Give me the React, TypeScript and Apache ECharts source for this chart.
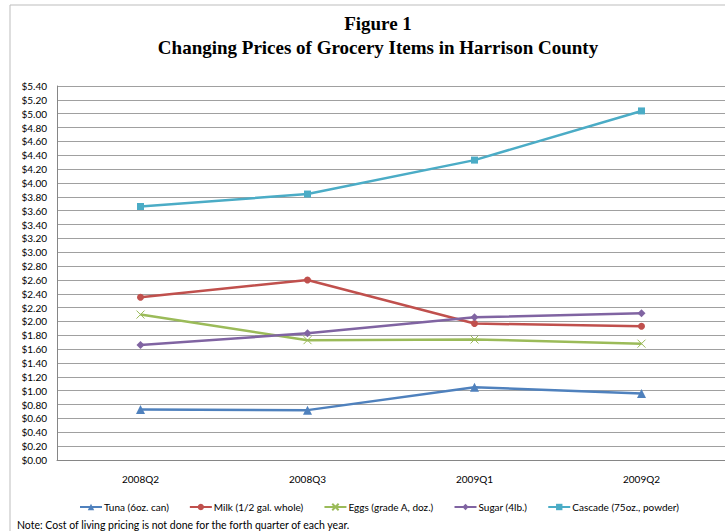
import React, { useEffect, useRef } from "react";
import * as echarts from "echarts";

const categories = ["2008Q2", "2008Q3", "2009Q1", "2009Q2"];
const tuna = [0.73, 0.72, 1.05, 0.96];
const milk = [2.35, 2.6, 1.97, 1.93];
const eggs = [2.1, 1.73, 1.74, 1.68];
const sugar = [1.66, 1.83, 2.06, 2.12];
const cascade = [3.66, 3.84, 4.33, 5.04];

const seriesNames = [
  "Tuna (6oz. can)",
  "Milk (1/2 gal. whole)",
  "Eggs (grade A, doz.)",
  "Sugar (4lb.)",
  "Cascade (75oz., powder)",
];
const titleLines = ["Figure 1", "Changing Prices of Grocery Items in Harrison County"];
const noteText = "Note: Cost of living pricing is not done for the forth quarter of each year.";

const FONT = "Lato, 'Open Sans', sans-serif";

export default function App() {
  const ref = useRef<HTMLDivElement>(null);
  useEffect(() => {
    if (!ref.current) return;
    const chart = echarts.init(ref.current, null, { renderer: "svg" });
    const mk = (
      name: string,
      data: number[],
      color: string,
      symbol: string,
      size: number,
      extra: any = {}
    ) => ({
      name,
      type: "line",
      data,
      symbol,
      symbolSize: size,
      lineStyle: { color, width: 2.5 },
      itemStyle: { color, ...extra },
      emphasis: { disabled: true },
    });
    chart.setOption({
      animation: false,
      backgroundColor: "#ffffff",
      textStyle: { fontFamily: FONT },
      grid: { left: 57, top: 86, width: 671, height: 374, containLabel: false },
      xAxis: {
        type: "category",
        data: categories,
        boundaryGap: true,
        axisLine: { show: true, lineStyle: { color: "#868686", width: 1 } },
        axisTick: { show: false },
        axisLabel: { color: "#000", fontSize: 10, fontFamily: FONT, margin: 14 },
      },
      yAxis: {
        type: "value",
        min: 0,
        max: 5.4,
        interval: 0.2,
        axisLine: { show: true, lineStyle: { color: "#868686", width: 1 } },
        axisTick: { show: false },
        splitLine: { show: true, lineStyle: { color: "#a0a0a0", width: 1 } },
        axisLabel: {
          color: "#000",
          fontSize: 10,
          fontFamily: FONT,
          margin: 10,
          formatter: (v: number) => "$" + v.toFixed(2),
        },
      },
      legend: {
        data: seriesNames,
        left: 74,
        top: 497,
        itemWidth: 22,
        itemHeight: 8,
        itemGap: 20,
        textStyle: { color: "#000", fontSize: 10, fontFamily: FONT, padding: [0, 0, 0, -3] },
      },
      graphic: [
        {
          type: "rect",
          shape: { x: 10, y: 5, width: 900, height: 700 },
          style: { fill: "none", stroke: "#bdbdbd", lineWidth: 1 },
          silent: true,
          z: -10,
        },
        {
          type: "text",
          x: 378,
          y: 23,
          style: {
            text: titleLines[0],
            font: "bold 19px 'Liberation Serif', 'Times New Roman', serif",
            fill: "#000",
            textAlign: "center",
            textVerticalAlign: "middle",
          },
        },
        {
          type: "text",
          x: 378,
          y: 47,
          style: {
            text: titleLines[1],
            font: "bold 19px 'Liberation Serif', 'Times New Roman', serif",
            fill: "#000",
            textAlign: "center",
            textVerticalAlign: "middle",
          },
        },
        {
          type: "text",
          x: 17,
          y: 525,
          style: {
            text: noteText,
            font: "10.5px Lato, 'Open Sans', sans-serif",
            fill: "#000",
            textAlign: "left",
            textVerticalAlign: "middle",
          },
        },
      ],
      series: [
        mk(seriesNames[0], tuna, "#4F81BD", "triangle", 9),
        mk(seriesNames[1], milk, "#C0504D", "circle", 7),
        mk(seriesNames[2], eggs, "#9BBB59", "path://M0,0L10,10M10,0L0,10", 8, {
          borderColor: "#9BBB59",
          borderWidth: 1,
        }),
        mk(seriesNames[3], sugar, "#8064A2", "diamond", 8),
        mk(seriesNames[4], cascade, "#4BACC6", "rect", 7),
      ],
    });
    return () => chart.dispose();
  }, []);
  return (
    <div
      ref={ref}
      style={{ position: "fixed", left: 0, top: 0, width: 725, height: 531, background: "#fff" }}
    />
  );
}
